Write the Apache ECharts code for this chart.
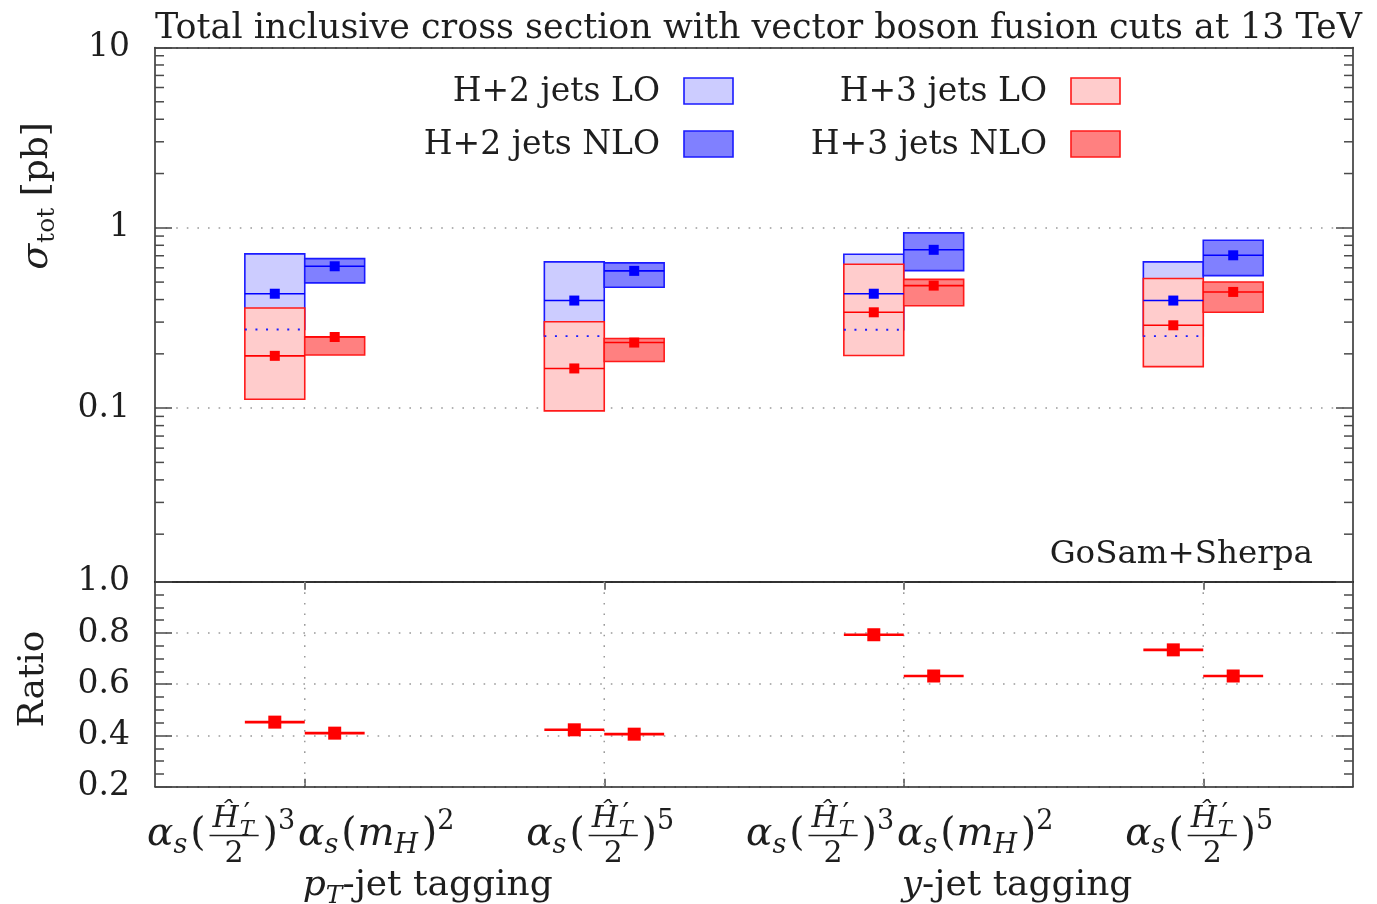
<!DOCTYPE html>
<html>
<head>
<meta charset="utf-8">
<title>Total inclusive cross section with vector boson fusion cuts at 13 TeV</title>
<script src="https://cdn.jsdelivr.net/npm/echarts@6.0.0/dist/echarts.min.js"></script>
<style>
  html, body { margin: 0; padding: 0; background: #ffffff; }
  #chart { width: 1377px; height: 904px; }
</style>
</head>
<body>
<div id="chart"></div>
<script>
// ---------------- data ----------------
// scale choices along the x axis (two per jet-tagging scheme)
const categories = ['pT tagging, αs(HT′/2)^3 αs(mH)^2', 'pT tagging, αs(HT′/2)^5',
                    'y tagging, αs(HT′/2)^3 αs(mH)^2', 'y tagging, αs(HT′/2)^5'];
const scaleKinds = ['mixed', 'pure', 'mixed', 'pure'];

// H+2 jets, LO and NLO: lower / upper edge of scale band and central value [pb]
const h2LoLow      = [0.273, 0.251, 0.272, 0.251];
const h2LoHigh     = [0.717, 0.647, 0.713, 0.647];
const h2LoCentral  = [0.431, 0.395, 0.431, 0.395];
const h2NloLow     = [0.495, 0.468, 0.579, 0.543];
const h2NloHigh    = [0.675, 0.639, 0.938, 0.853];
const h2NloCentral = [0.612, 0.577, 0.755, 0.704];

// H+3 jets, LO and NLO [pb]
const h3LoLow      = [0.112, 0.0966, 0.196, 0.170];
const h3LoHigh     = [0.359, 0.3015, 0.628, 0.523];
const h3LoCentral  = [0.195, 0.166, 0.340, 0.288];
const h3NloLow     = [0.197, 0.1815, 0.370, 0.340];
const h3NloHigh    = [0.249, 0.2435, 0.518, 0.501];
const h3NloCentral = [0.248, 0.231, 0.478, 0.441];

// ratio H+3 jets / H+2 jets
const ratioLo  = [0.452, 0.422, 0.793, 0.734];
const ratioNlo = [0.409, 0.405, 0.632, 0.632];

// axis ranges and ticks
const sigmaRange = [0.0109, 10];
const ratioRange = [0.2, 1.0];
const ratioStep = 0.2;
const logMinorTicks = [0.02, 0.03, 0.04, 0.05, 0.06, 0.07, 0.08, 0.09,
                       0.2, 0.3, 0.4, 0.5, 0.6, 0.7, 0.8, 0.9,
                       2, 3, 4, 5, 6, 7, 8, 9];

// ---------------- styling ----------------
const FONT_FAMILY = '"DejaVu Serif"';
const INK = '#1e1e1e';
const FRAME = { color: '#262626', width: 1.5 };
const TICK = { color: '#4a4a4a', width: 1.5 };
const GRID_DOT = { color: '#9a9a9a', width: 1.5, type: [1.6, 9] };
const BLUE = '#1a1aff', RED = '#ff1a1a';
const BOX_FRACTION = 0.2;   // box width as a fraction of a category band

// ---------------- small text setter (sub/superscripts, fractions) ----------------
const ctx2d = document.createElement('canvas').getContext('2d');
const fontOf = (st, sz) => `${st} ${sz}px ${FONT_FAMILY}`;
function advance(t, st, sz) { ctx2d.font = fontOf(st, sz); return ctx2d.measureText(t).width; }
const shiftCache = {};
function middleShift(st, sz) {
  const key = st + sz;
  if (key in shiftCache) return shiftCache[key];
  ctx2d.font = fontOf(st, sz);
  ctx2d.textBaseline = 'alphabetic';
  const a = ctx2d.measureText('H').actualBoundingBoxAscent;
  ctx2d.textBaseline = 'middle';
  const m = ctx2d.measureText('H').actualBoundingBoxAscent;
  ctx2d.textBaseline = 'alphabetic';
  return (shiftCache[key] = a - m);
}
function glyphAt(t, st, sz, x, baseline, fill) {
  return { type: 'text', x: x, y: baseline - middleShift(st, sz), silent: true,
    style: { text: t, font: fontOf(st, sz), fill: fill || INK, align: 'left', verticalAlign: 'middle' } };
}
const MATH_AXIS = 9.5, NUM_RAISE = 9, DEN_DROP = 26, FRAC_PAD = 6;
function setLine(pieces) {
  let x = 0; const items = [];
  for (const p of pieces) {
    const before = p.before || 0, after = p.after || 0;
    if (p.frac) {
      const num = setLine(p.frac.num), den = setLine(p.frac.den);
      const w = Math.max(num.width, den.width) + 2 * FRAC_PAD;
      items.push({ frac: true, x: x + before, w, num, den });
      x += w + before + after;
    } else {
      const w = advance(p.t, p.st || 'normal', p.sz);
      items.push({ x: x + before, p });
      if (!p.stack) x += w + before + after;
    }
  }
  return { width: x, items };
}
function drawLine(line, x0, baseline, out) {
  for (const it of line.items) {
    if (it.frac) {
      const barY = baseline - MATH_AXIS;
      const cx = x0 + it.x + it.w / 2;
      drawLine(it.num, cx - it.num.width / 2, barY - NUM_RAISE, out);
      drawLine(it.den, cx - it.den.width / 2, barY + DEN_DROP, out);
      out.push({ type: 'line', silent: true,
        shape: { x1: x0 + it.x + 3, y1: barY, x2: x0 + it.x + it.w - 3, y2: barY },
        style: { stroke: INK, lineWidth: 1.4 } });
    } else {
      out.push(glyphAt(it.p.t, it.p.st || 'normal', it.p.sz, x0 + it.x, baseline + (it.p.dy || 0)));
    }
  }
}

// math sizes
const M = 39, S = 27, F = 30, FS = 21, SUB = 8, SUP = -16;
const scaleFrac = { frac: {
  num: [{ t: 'Ĥ', st: 'italic', sz: F, after: 1 }, { t: '′', sz: 28, dy: -4, stack: true, before: 4 },
        { t: 'T', st: 'italic', sz: FS, dy: 8, after: 2 }],
  den: [{ t: '2', sz: F }] } };
const tickPieces = {
  mixed: [
    { t: 'α', st: 'italic', sz: M }, { t: 's', st: 'italic', sz: S, dy: SUB, after: 3 },
    { t: '(', sz: M, after: 1 }, scaleFrac, { t: ')', sz: M, before: 1 }, { t: '3', sz: S, dy: SUP, after: 3 },
    { t: 'α', st: 'italic', sz: M }, { t: 's', st: 'italic', sz: S, dy: SUB, after: 3 },
    { t: '(', sz: M, after: 1 }, { t: 'm', st: 'italic', sz: M }, { t: 'H', st: 'italic', sz: S, dy: SUB, after: 4 },
    { t: ')', sz: M }, { t: '2', sz: S, dy: SUP }
  ],
  pure: [
    { t: 'α', st: 'italic', sz: M }, { t: 's', st: 'italic', sz: S, dy: SUB, after: 3 },
    { t: '(', sz: M, after: 1 }, scaleFrac, { t: ')', sz: M, before: 1 }, { t: '5', sz: S, dy: SUP }
  ]
};
const taggingGroups = [
  { first: 0, pieces: [{ t: 'p', st: 'italic', sz: 36 }, { t: 'T', st: 'italic', sz: 25, dy: SUB }, { t: '-jet tagging', sz: 36 }] },
  { first: 2, pieces: [{ t: 'y', st: 'italic', sz: 36 }, { t: '-jet tagging', sz: 36 }] }
];

// ---------------- series builders ----------------
function boxSeries(name, low, high, side, fill, stroke) {
  return {
    name, type: 'custom', xAxisIndex: 0, yAxisIndex: 0, silent: true,
    data: categories.map((_, i) => [i, low[i], high[i]]),
    renderItem(params, api) {
      const i = api.value(0);
      const top = api.coord([i, api.value(2)]);
      const bot = api.coord([i, api.value(1)]);
      const w = api.size([1, 1])[0] * BOX_FRACTION;
      const x = side < 0 ? top[0] - w : top[0];
      return { type: 'rect', shape: { x, y: top[1], width: w, height: bot[1] - top[1] },
        style: { fill, stroke, lineWidth: 1.6 } };
    }
  };
}
function centralSeries(name, central, side, color) {
  return {
    name, type: 'custom', xAxisIndex: 0, yAxisIndex: 0, silent: true,
    data: categories.map((_, i) => [i, central[i]]),
    renderItem(params, api) {
      const i = api.value(0);
      const c = api.coord([i, api.value(1)]);
      const w = api.size([1, 1])[0] * BOX_FRACTION;
      const x0 = side < 0 ? c[0] - w : c[0];
      const mx = x0 + w / 2, ms = 10;
      return { type: 'group', children: [
        { type: 'line', shape: { x1: x0, y1: c[1], x2: x0 + w, y2: c[1] }, style: { stroke: color, lineWidth: 1.6 } },
        { type: 'rect', shape: { x: mx - ms / 2, y: c[1] - ms / 2, width: ms, height: ms }, style: { fill: color } }
      ] };
    }
  };
}
function hiddenEdgeSeries(name, low, side, color) {
  return {
    name, type: 'custom', xAxisIndex: 0, yAxisIndex: 0, silent: true,
    data: categories.map((_, i) => [i, low[i]]),
    renderItem(params, api) {
      const i = api.value(0);
      const c = api.coord([i, api.value(1)]);
      const w = api.size([1, 1])[0] * BOX_FRACTION;
      const x0 = side < 0 ? c[0] - w : c[0];
      return { type: 'line', shape: { x1: x0, y1: c[1], x2: x0 + w, y2: c[1] },
        style: { stroke: color, lineWidth: 1.8, lineDash: [2, 8.6] } };
    }
  };
}
function ratioSeries(name, values, side) {
  return {
    name, type: 'custom', xAxisIndex: 2, yAxisIndex: 2, silent: true,
    data: categories.map((_, i) => [i, values[i]]),
    renderItem(params, api) {
      const i = api.value(0);
      const c = api.coord([i, api.value(1)]);
      const w = api.size([1, 1])[0] * BOX_FRACTION;
      const x0 = side < 0 ? c[0] - w : c[0];
      const mx = x0 + w / 2, ms = 13;
      return { type: 'group', children: [
        { type: 'line', shape: { x1: x0, y1: c[1], x2: x0 + w, y2: c[1] }, style: { stroke: '#ff0000', lineWidth: 2.6 } },
        { type: 'rect', shape: { x: mx - ms / 2, y: c[1] - ms / 2, width: ms, height: ms }, style: { fill: '#ff0000' } }
      ] };
    }
  };
}
// minor ticks of the logarithmic axis, on both frame sides
const logMinorTickSeries = {
  type: 'custom', xAxisIndex: 0, yAxisIndex: 0, silent: true, z: 5,
  data: logMinorTicks.map(v => [0, v]),
  renderItem(params, api) {
    const y = api.coord([0, api.value(1)])[1];
    const cs = params.coordSys;
    return { type: 'group', children: [
      { type: 'line', shape: { x1: cs.x, y1: y, x2: cs.x + 9, y2: y }, style: { stroke: TICK.color, lineWidth: TICK.width } },
      { type: 'line', shape: { x1: cs.x + cs.width - 9, y1: y, x2: cs.x + cs.width, y2: y }, style: { stroke: TICK.color, lineWidth: TICK.width } }
    ] };
  }
};
// dotted vertical guide lines in the ratio panel at every category
const ratioVerticalGrid = {
  type: 'custom', xAxisIndex: 2, yAxisIndex: 2, silent: true, z: 1,
  data: categories.map((_, i) => [i, ratioRange[1]]),
  renderItem(params, api) {
    const x = api.coord([api.value(0), api.value(1)])[0];
    const cs = params.coordSys;
    return { type: 'line', shape: { x1: x, y1: cs.y, x2: x, y2: cs.y + cs.height },
      style: { stroke: GRID_DOT.color, lineWidth: GRID_DOT.width, lineDash: GRID_DOT.type } };
  }
};

// ---------------- axes ----------------
const frameX = (grid, pos, ticks) => ({
  gridIndex: grid, type: 'category', data: categories, position: pos, boundaryGap: true,
  axisLine: { show: true, onZero: false, lineStyle: FRAME },
  axisTick: ticks ? { show: true, inside: true, alignWithLabel: true, length: 8, lineStyle: TICK } : { show: false },
  axisLabel: { show: false }, splitLine: { show: false }
});
const labelStyle = { fontFamily: FONT_FAMILY, fontSize: 33, color: INK, margin: 25, padding: [0, 0, 9, 0] };

const option = {
  animation: false,
  backgroundColor: '#ffffff',
  grid: [
    { left: 155, right: 24, top: 47.5, height: 534.2 },
    { left: 155, right: 24, top: 581.7, height: 205 }
  ],
  xAxis: [frameX(0, 'bottom', false), frameX(0, 'top', false), frameX(1, 'bottom', true), frameX(1, 'top', true)],
  yAxis: [
    { gridIndex: 0, type: 'log', logBase: 10, min: sigmaRange[0], max: sigmaRange[1], position: 'left',
      axisLine: { show: true, onZero: false, lineStyle: FRAME },
      axisTick: { show: true, inside: true, length: 17, lineStyle: TICK },
      axisLabel: Object.assign({ showMinLabel: false, showMaxLabel: true,
        formatter: v => String(+Number(v).toPrecision(3)) }, labelStyle),
      splitLine: { show: true, lineStyle: GRID_DOT } },
    { gridIndex: 0, type: 'log', logBase: 10, min: sigmaRange[0], max: sigmaRange[1], position: 'right',
      axisLine: { show: true, onZero: false, lineStyle: FRAME },
      axisTick: { show: true, inside: true, length: 17, lineStyle: TICK },
      axisLabel: { show: false }, splitLine: { show: false } },
    { gridIndex: 1, type: 'value', min: ratioRange[0], max: ratioRange[1], interval: ratioStep, position: 'left',
      axisLine: { show: true, onZero: false, lineStyle: FRAME },
      axisTick: { show: true, inside: true, length: 17, lineStyle: TICK },
      minorTick: { show: true, splitNumber: 4, length: 9, lineStyle: TICK },
      axisLabel: Object.assign({ showMinLabel: true, showMaxLabel: true, formatter: v => Number(v).toFixed(1) }, labelStyle),
      splitLine: { show: true, lineStyle: GRID_DOT } },
    { gridIndex: 1, type: 'value', min: ratioRange[0], max: ratioRange[1], interval: ratioStep, position: 'right',
      axisLine: { show: true, onZero: false, lineStyle: FRAME },
      axisTick: { show: true, inside: true, length: 17, lineStyle: TICK },
      minorTick: { show: true, splitNumber: 4, length: 9, lineStyle: TICK },
      axisLabel: { show: false }, splitLine: { show: false } }
  ],
  series: [
    boxSeries('H+2 jets LO', h2LoLow, h2LoHigh, -1, '#ccccff', BLUE),
    boxSeries('H+2 jets NLO', h2NloLow, h2NloHigh, 1, '#8080ff', BLUE),
    boxSeries('H+3 jets LO', h3LoLow, h3LoHigh, -1, '#ffcccc', RED),
    boxSeries('H+3 jets NLO', h3NloLow, h3NloHigh, 1, '#ff8080', RED),
    hiddenEdgeSeries('H+2 jets LO lower edge', h2LoLow, -1, BLUE),
    centralSeries('H+2 jets LO central', h2LoCentral, -1, '#0000ff'),
    centralSeries('H+2 jets NLO central', h2NloCentral, 1, '#0000ff'),
    centralSeries('H+3 jets LO central', h3LoCentral, -1, '#ff0000'),
    centralSeries('H+3 jets NLO central', h3NloCentral, 1, '#ff0000'),
    logMinorTickSeries,
    ratioVerticalGrid,
    ratioSeries('Ratio LO', ratioLo, -1),
    ratioSeries('Ratio NLO', ratioNlo, 1)
  ]
};

const chart = echarts.init(document.getElementById('chart'), null, { renderer: 'canvas' });
chart.setOption(option);

// ---------------- text: title, legend, labels ----------------
const elements = [];
function textLine(pieces, x, baseline, align, out) {
  const line = setLine(pieces);
  const x0 = align === 'right' ? x - line.width : align === 'center' ? x - line.width / 2 : x;
  drawLine(line, x0, baseline, out || elements);
  return line.width;
}

// title
textLine([{ t: 'Total inclusive cross section with vector boson fusion cuts at 13 TeV', sz: 34.9 }], 155, 37.7, 'left');

// legend
const legendRows = [
  { label: 'H+2 jets LO',  textRight: 660,  boxX: 684,  boxY: 78,  baseline: 101, fill: '#ccccff', stroke: BLUE },
  { label: 'H+2 jets NLO', textRight: 660,  boxX: 684,  boxY: 131, baseline: 154, fill: '#8080ff', stroke: BLUE },
  { label: 'H+3 jets LO',  textRight: 1047, boxX: 1071, boxY: 78,  baseline: 101, fill: '#ffcccc', stroke: RED },
  { label: 'H+3 jets NLO', textRight: 1047, boxX: 1071, boxY: 131, baseline: 154, fill: '#ff8080', stroke: RED }
];
legendRows.forEach(r => {
  textLine([{ t: r.label, sz: 33 }], r.textRight, r.baseline, 'right');
  elements.push({ type: 'rect', silent: true, shape: { x: r.boxX, y: r.boxY, width: 49, height: 26 },
    style: { fill: r.fill, stroke: r.stroke, lineWidth: 1.6 } });
});

// generator tag
textLine([{ t: 'GoSam+Sherpa', sz: 32.5 }], 1313, 563, 'right');

// y axis titles
const sigmaTitle = [];
textLine([{ t: 'σ', st: 'italic', sz: 38 }, { t: 'tot', sz: 25, dy: 7, before: 1 }, { t: ' [pb]', sz: 36 }], 0, 0, 'center', sigmaTitle);
elements.push({ type: 'group', x: 47, y: 196, rotation: Math.PI / 2, children: sigmaTitle });
const ratioTitle = [];
textLine([{ t: 'Ratio', sz: 36 }], 0, 0, 'center', ratioTitle);
elements.push({ type: 'group', x: 43, y: 679, rotation: Math.PI / 2, children: ratioTitle });

// category labels (scale choice) and tagging-scheme labels
const catX = categories.map((_, i) => chart.convertToPixel({ xAxisIndex: 2 }, i));
scaleKinds.forEach((kind, i) => textLine(tickPieces[kind], catX[i] - 4, 845, 'center'));
taggingGroups.forEach(g => textLine(g.pieces, catX[g.first] - 2, 895, 'left'));

chart.setOption({ graphic: { elements } });
</script>
</body>
</html>
